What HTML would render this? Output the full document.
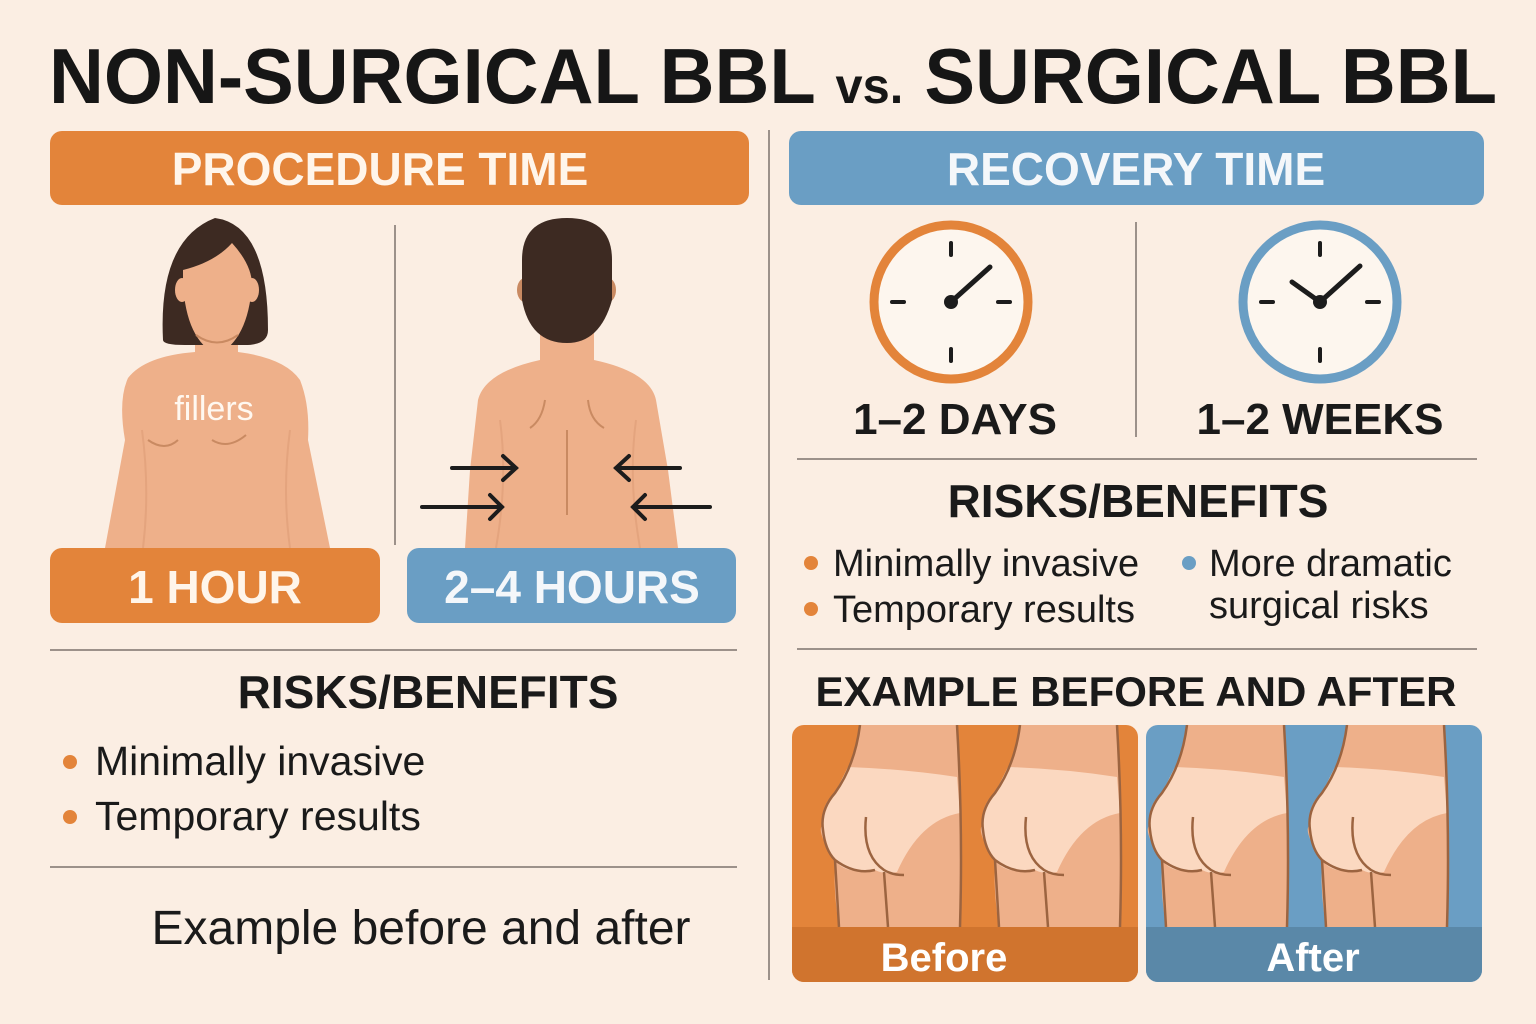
<!DOCTYPE html>
<html><head><meta charset="utf-8"><style>
html,body{margin:0;padding:0;background:#fbeee3}
svg{display:block}
text{font-family:"Liberation Sans","DejaVu Sans",sans-serif}
</style></head><body>
<svg width="1536" height="1024" viewBox="0 0 1536 1024" xmlns="http://www.w3.org/2000/svg">
<rect width="1536" height="1024" fill="#fbeee3"/>
<text x="773" y="103" text-anchor="middle" font-size="78" font-weight="bold" fill="#161616" textLength="1448" lengthAdjust="spacingAndGlyphs">NON-SURGICAL BBL <tspan font-size="50">vs.</tspan> SURGICAL BBL</text>

<!-- headers -->
<rect x="50" y="131" width="699" height="74" rx="12" fill="#e3843a"/>
<text x="380" y="185" text-anchor="middle" font-size="46" font-weight="bold" fill="#fff5ea">PROCEDURE TIME</text>
<rect x="789" y="131" width="695" height="74" rx="12" fill="#6a9ec4"/>
<text x="1136" y="185" text-anchor="middle" font-size="46" font-weight="bold" fill="#f4f7fa">RECOVERY TIME</text>

<!-- dividers -->
<g stroke="#9c918a" stroke-width="2">
<line x1="769" y1="130" x2="769" y2="980"/>
<line x1="395" y1="225" x2="395" y2="545"/>
<line x1="1136" y1="222" x2="1136" y2="437"/>
<line x1="50" y1="650" x2="737" y2="650"/>
<line x1="50" y1="867" x2="737" y2="867"/>
<line x1="797" y1="459" x2="1477" y2="459"/>
<line x1="797" y1="649" x2="1477" y2="649"/>
</g>

<!-- front figure -->
<path d="M195 320 L238 320 L238 352 Q285 358 300 380 Q310 405 308 440 L330 548 L105 548 L125 440 Q118 400 128 378 Q145 356 195 352 Z" fill="#eeb08a"/>
<path d="M142 430 Q150 490 143 548 M290 430 Q282 490 290 548" stroke="#e4a47e" stroke-width="2" fill="none"/>
<path d="M163 340 Q158 240 215 218 Q268 225 268 330 Q268 345 245 345 L185 345 Q163 345 163 340 Z" fill="#3d2a22"/>
<ellipse cx="182" cy="290" rx="7" ry="12" fill="#eeb08a"/>
<ellipse cx="252" cy="290" rx="7" ry="12" fill="#eeb08a"/>
<path d="M183 270 Q215 262 232 243 Q252 265 252 285 Q248 340 217 355 Q186 340 183 283 Z" fill="#eeb08a"/>
<path d="M196 335 Q217 350 238 335" stroke="#c98a62" stroke-width="2" fill="none"/>
<path d="M148 440 Q165 452 178 440 M212 440 Q228 450 246 435" stroke="#c98a62" stroke-width="2" fill="none"/>
<text x="214" y="420" text-anchor="middle" font-size="34" fill="#fff8f0">fillers</text>

<!-- back figure -->
<path d="M478 400 Q485 372 540 360 L540 320 L594 320 L594 360 Q650 372 656 400 L668 470 L678 548 L465 548 L470 470 Z" fill="#eeb08a"/>
<path d="M500 420 Q508 480 496 548 M636 420 Q628 480 640 548" stroke="#e4a47e" stroke-width="2" fill="none"/>
<ellipse cx="525" cy="290" rx="8" ry="12" fill="#c98a62"/>
<ellipse cx="608" cy="290" rx="8" ry="12" fill="#c98a62"/>
<path d="M522 260 Q522 218 567 218 Q612 218 612 260 L612 300 Q600 343 567 343 Q530 343 522 300 Z" fill="#3d2a22"/>
<path d="M567 430 L567 515 M545 400 Q542 420 530 428 M588 400 Q590 420 604 428" stroke="#c98a62" stroke-width="2" fill="none"/>
<g stroke="#1c1c1c" stroke-width="4" fill="none" stroke-linecap="round">
<path d="M452 468 L516 468 M503 456 L516 468 L503 480"/>
<path d="M422 507 L502 507 M490 495 L502 507 L490 519"/>
<path d="M680 468 L616 468 M629 456 L616 468 L629 480"/>
<path d="M710 507 L633 507 M645 495 L633 507 L645 519"/>
</g>

<!-- badges -->
<rect x="50" y="548" width="330" height="75" rx="12" fill="#e3843a"/>
<text x="215" y="603" text-anchor="middle" font-size="46" font-weight="bold" fill="#fff5ea">1 HOUR</text>
<rect x="407" y="548" width="329" height="75" rx="12" fill="#6a9ec4"/>
<text x="572" y="603" text-anchor="middle" font-size="46" font-weight="bold" fill="#f4f7fa">2–4 HOURS</text>

<!-- left risks -->
<text x="428" y="708" text-anchor="middle" font-size="46" font-weight="bold" fill="#1a1a1a">RISKS/BENEFITS</text>
<circle cx="70" cy="762" r="7" fill="#e3843a"/>
<circle cx="70" cy="817" r="7" fill="#e3843a"/>
<text x="95" y="775" font-size="41" fill="#1a1a1a">Minimally invasive</text>
<text x="95" y="830" font-size="41" fill="#1a1a1a">Temporary results</text>
<text x="421" y="944" text-anchor="middle" font-size="48" fill="#1a1a1a">Example before and after</text>

<!-- clocks -->
<g stroke-linecap="round">
<circle cx="951" cy="302" r="77" fill="#fdf6ee" stroke="#e3843a" stroke-width="9"/>
<g stroke="#1c1c1c" stroke-width="4">
<line x1="951" y1="243" x2="951" y2="255"/><line x1="951" y1="349" x2="951" y2="361"/>
<line x1="892" y1="302" x2="904" y2="302"/><line x1="998" y1="302" x2="1010" y2="302"/>
<line x1="951" y1="302" x2="990" y2="267" stroke-width="5"/>
</g>
<circle cx="951" cy="302" r="7" fill="#1c1c1c"/>
<circle cx="1320" cy="302" r="77" fill="#fdf6ee" stroke="#6a9ec4" stroke-width="9"/>
<g stroke="#1c1c1c" stroke-width="4">
<line x1="1320" y1="243" x2="1320" y2="255"/><line x1="1320" y1="349" x2="1320" y2="361"/>
<line x1="1261" y1="302" x2="1273" y2="302"/><line x1="1367" y1="302" x2="1379" y2="302"/>
<line x1="1320" y1="302" x2="1360" y2="266" stroke-width="5"/>
<line x1="1320" y1="302" x2="1292" y2="282" stroke-width="5"/>
</g>
<circle cx="1320" cy="302" r="7" fill="#1c1c1c"/>
</g>
<text x="955" y="434" text-anchor="middle" font-size="44" font-weight="bold" fill="#1a1a1a">1–2 DAYS</text>
<text x="1320" y="434" text-anchor="middle" font-size="44" font-weight="bold" fill="#1a1a1a">1–2 WEEKS</text>

<!-- right risks -->
<text x="1138" y="517" text-anchor="middle" font-size="46" font-weight="bold" fill="#1a1a1a">RISKS/BENEFITS</text>
<circle cx="811" cy="563" r="7" fill="#e3843a"/>
<circle cx="811" cy="609" r="7" fill="#e3843a"/>
<circle cx="1189" cy="563" r="7" fill="#6a9ec4"/>
<text x="833" y="576" font-size="38" fill="#1a1a1a">Minimally invasive</text>
<text x="833" y="622" font-size="38" fill="#1a1a1a">Temporary results</text>
<text x="1209" y="576" font-size="38" fill="#1a1a1a">More dramatic</text>
<text x="1209" y="618" font-size="38" fill="#1a1a1a">surgical risks</text>
<text x="1136" y="706" text-anchor="middle" font-size="42" font-weight="bold" fill="#1a1a1a">EXAMPLE BEFORE AND AFTER</text>

<!-- before/after panels -->
<defs>
<clipPath id="cb"><rect x="792" y="725" width="346" height="257" rx="12"/></clipPath>
<clipPath id="ca"><rect x="1146" y="725" width="336" height="257" rx="12"/></clipPath>
<g id="butt">
<path d="M0 0 L97 0 Q101 88 100 202 L-21 202 Q-27 165 -25 135 Q-45 105 -37 100 Q-40 80 -25 68 Q-5 40 0 0 Z" fill="#eeb08a"/>
<path d="M-12 42 Q45 44 97 52 L100 88 Q60 95 37 147 Q25 150 15 145 Q-15 150 -25 135 Q-42 110 -37 100 Q-37 80 -25 68 Z" fill="#fbd8c0"/>
<path d="M0 0 Q-5 40 -25 68 Q-40 85 -37 105 Q-35 125 -25 135 Q-5 150 15 145 M6 92 Q2 130 24 145 Q32 150 44 150 M24 147 L28 202 M-25 135 L-21 202 M97 0 Q103 100 100 202" stroke="#9c6440" stroke-width="2.5" fill="none"/>
</g>
</defs>
<g clip-path="url(#cb)">
<rect x="792" y="725" width="346" height="257" fill="#e3843a"/>
<use href="#butt" transform="translate(860,725)"/>
<use href="#butt" transform="translate(1020,725)"/>
<rect x="792" y="927" width="346" height="55" fill="#d0742e"/>
</g>
<text x="944" y="971" text-anchor="middle" font-size="40" font-weight="bold" fill="#fff">Before</text>
<g clip-path="url(#ca)">
<rect x="1146" y="725" width="336" height="257" fill="#6a9ec4"/>
<use href="#butt" transform="translate(1187,725)"/>
<use href="#butt" transform="translate(1347,725)"/>
<rect x="1146" y="927" width="336" height="55" fill="#5a88a8"/>
</g>
<text x="1313" y="971" text-anchor="middle" font-size="40" font-weight="bold" fill="#fff">After</text>
</svg>
</body></html>
